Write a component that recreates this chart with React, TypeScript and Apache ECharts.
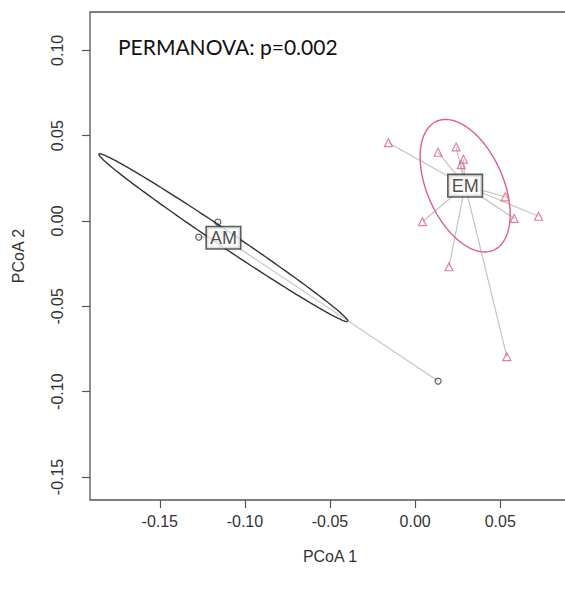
import React, { useEffect, useRef } from "react";
import * as echarts from "echarts";

// ---- data ----
const X_TICKS = [-0.15, -0.1, -0.05, 0, 0.05];
const Y_TICKS = [-0.15, -0.1, -0.05, 0, 0.05, 0.1];
const X_RANGE = [-0.191, 0.091];
const Y_RANGE = [-0.1635, 0.1225];

const EM_X = [-0.0157, 0.0135, 0.0241, 0.0284, 0.0271, 0.0529, 0.0582, 0.0725, 0.0043, 0.0199, 0.0539];
const EM_Y = [0.0459, 0.0403, 0.0434, 0.0362, 0.033, 0.0142, 0.0015, 0.0028, -0.0004, -0.0268, -0.0795];

const AM_X = [-0.1271, -0.1159, 0.0135];
const AM_Y = [-0.0094, -0.0006, -0.0938];

const GROUPS = ["AM", "EM"];
const CENTER_X = [-0.1126, 0.0294];
const CENTER_Y = [-0.0098, 0.0207];
// ellipse semi-axes and tilt (degrees)
const ELL_A = [0.0881, 0.0413];
const ELL_B = [0.0047, 0.0224];
const ELL_ANGLE = [-33.85, -66.1];

const GROUP_COLORS = ["#333333", "#e0607e"];
const ANNOTATION = "PERMANOVA: p=0.002";

function ellipsePoints(g: number): number[][] {
  const pts: number[][] = [];
  const th = (ELL_ANGLE[g] * Math.PI) / 180;
  const n = 180;
  for (let i = 0; i <= n; i++) {
    const t = (i / n) * Math.PI * 2;
    const ex = ELL_A[g] * Math.cos(t);
    const ey = ELL_B[g] * Math.sin(t);
    pts.push([
      CENTER_X[g] + ex * Math.cos(th) - ey * Math.sin(th),
      CENTER_Y[g] + ex * Math.sin(th) + ey * Math.cos(th),
    ]);
  }
  return pts;
}

function spider(g: number, xs: number[], ys: number[]) {
  return xs.map((x, i) => ({ coords: [[CENTER_X[g], CENTER_Y[g]], [x, ys[i]]] }));
}

const FONT = "'Liberation Sans', Arial, sans-serif";

export default function App() {
  const ref = useRef<HTMLDivElement>(null);
  useEffect(() => {
    if (!ref.current) return;
    const chart = echarts.init(ref.current, undefined, { renderer: "svg" });
    const axisCommon = {
      type: "value" as const,
      axisLine: { show: false, onZero: false },
      splitLine: { show: false },
      axisTick: { show: true, length: 8, lineStyle: { color: "#555", width: 1.2 } },
      nameTextStyle: { fontFamily: FONT, fontSize: 16, color: "#333" },
    };
    chart.setOption({
      animation: false,
      backgroundColor: "#ffffff",
      grid: {
        left: 90,
        top: 12,
        right: -5,
        bottom: 93,
        show: true,
        borderColor: "#555",
        borderWidth: 1.3,
        containLabel: false,
        outerBoundsMode: "none",
      },
      xAxis: {
        ...axisCommon,
        min: X_RANGE[0],
        max: X_RANGE[1],
        axisTick: { ...axisCommon.axisTick, customValues: X_TICKS },
        axisLabel: {
          customValues: X_TICKS,
          formatter: (v: number) => v.toFixed(2),
          fontFamily: FONT,
          fontSize: 16,
          color: "#333",
          margin: 13,
        },
        name: "PCoA 1",
        nameLocation: "middle",
        nameGap: 48,
      },
      yAxis: {
        ...axisCommon,
        min: Y_RANGE[0],
        max: Y_RANGE[1],
        axisTick: { ...axisCommon.axisTick, customValues: Y_TICKS },
        axisLabel: {
          customValues: Y_TICKS,
          formatter: (v: number) => v.toFixed(2),
          fontFamily: FONT,
          fontSize: 16,
          color: "#333",
          rotate: 90,
          margin: 25,
        },
        name: "PCoA 2",
        nameLocation: "middle",
        nameRotate: 90,
        nameGap: 64,
      },
      graphic: [
        {
          type: "text",
          left: 118,
          top: 36,
          style: { text: ANNOTATION, fontFamily: "Lato, 'Open Sans', sans-serif", fontSize: 21, fill: "#111" },
        },
      ],
      series: [
        {
          type: "lines",
          coordinateSystem: "cartesian2d",
          data: [...spider(0, AM_X, AM_Y), ...spider(1, EM_X, EM_Y)],
          lineStyle: { color: "#c4c4c4", width: 1.2, opacity: 1 },
          silent: true,
          z: 1,
        },
        ...GROUPS.map((_, g) => ({
          type: "line",
          data: ellipsePoints(g),
          showSymbol: false,
          symbol: "none",
          lineStyle: { color: GROUP_COLORS[g], width: 1.4 },
          silent: true,
          z: 2,
        })),
        {
          type: "scatter",
          data: AM_X.map((x, i) => [x, AM_Y[i]]),
          symbol: "circle",
          symbolSize: 6,
          itemStyle: { color: "rgba(0,0,0,0)", borderColor: "#333", borderWidth: 1.2 },
          z: 3,
        },
        {
          type: "scatter",
          data: EM_X.map((x, i) => [x, EM_Y[i]]),
          symbol: "triangle",
          symbolSize: 8,
          itemStyle: { color: "rgba(0,0,0,0)", borderColor: "#e0607e", borderWidth: 1.2 },
          z: 3,
        },
        {
          type: "scatter",
          data: GROUPS.map((name, g) => ({ name, value: [CENTER_X[g], CENTER_Y[g]] })),
          symbolSize: 1,
          itemStyle: { color: "rgba(0,0,0,0)" },
          label: {
            show: true,
            position: "inside",
            formatter: (p: any) => p.name,
            fontFamily: FONT,
            fontSize: 18,
            color: "#222",
            backgroundColor: "#ffffff",
            borderColor: "#333",
            borderWidth: 1.6,
            padding: [2, 3, 1, 3],
          },
          z: 5,
        },
      ],
    });
    return () => chart.dispose();
  }, []);
  return (
    <div
      ref={ref}
      style={{ position: "absolute", left: 0, top: 0, width: 565, height: 593 }}
    />
  );
}
